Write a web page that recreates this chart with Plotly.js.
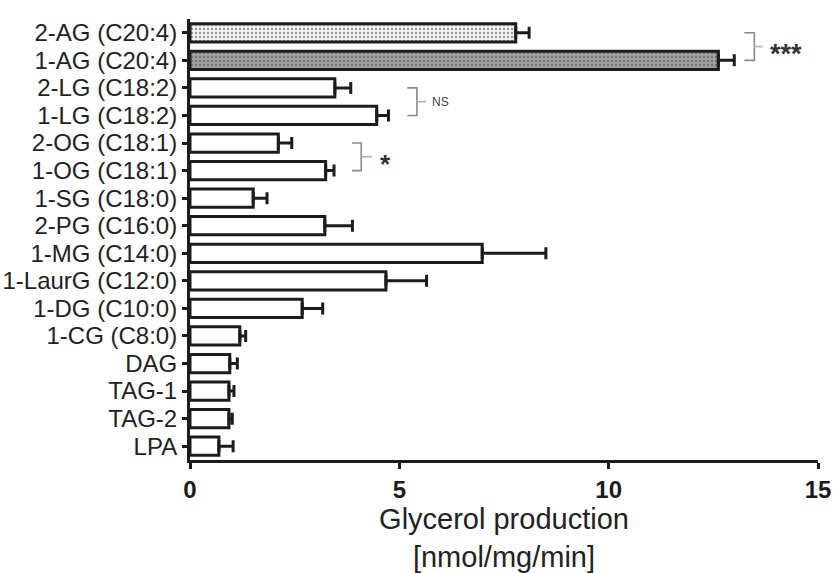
<!DOCTYPE html>
<html>
<head>
<meta charset="utf-8">
<script src="https://cdn.plot.ly/plotly-3.0.1.min.js"></script>
<style>html,body{margin:0;padding:0;background:#fff;}#chart{width:835px;height:573px;}</style>
</head>
<body>
<div id="chart"></div>
<script>
// ---- data ----
const categories = ["2-AG (C20:4)", "1-AG (C20:4)", "2-LG (C18:2)", "1-LG (C18:2)", "2-OG (C18:1)", "1-OG (C18:1)", "1-SG (C18:0)", "2-PG (C16:0)", "1-MG (C14:0)", "1-LaurG (C12:0)", "1-DG (C10:0)", "1-CG (C8:0)", "DAG", "TAG-1", "TAG-2", "LPA"];
const values = [7.78, 12.62, 3.46, 4.46, 2.11, 3.24, 1.51, 3.22, 6.98, 4.68, 2.68, 1.19, 0.95, 0.93, 0.93, 0.69];
const errors = [0.32, 0.38, 0.38, 0.28, 0.32, 0.20, 0.33, 0.66, 1.52, 0.97, 0.49, 0.14, 0.18, 0.12, 0.08, 0.34];
const xTicks = [0, 5, 10, 15];
const xTitle = "Glycerol production<br>[nmol/mg/min]";

// ---- styles ----
const fillColors = categories.map((c, i) => i === 0 ? "#f4f4f4" : (i === 1 ? "#a3a3a3" : "#ffffff"));
const patShapes = categories.map((c, i) => i < 2 ? "." : "");
const patFg = categories.map((c, i) => i === 0 ? "#cfcfcf" : (i === 1 ? "#636363" : "#ffffff"));
const noLower = errors.map(() => 0);
const ink = "#1c1c1c";
const font = "Liberation Sans, Arial, sans-serif";

const trace = {
  type: "bar",
  orientation: "h",
  y: categories,
  x: values,
  width: 0.66,
  marker: {
    color: fillColors,
    line: {color: ink, width: 3},
    pattern: {shape: patShapes, fgcolor: patFg, fillmode: "overlay", size: 4, solidity: 0.3}
  },
  error_x: {type: "data", symmetric: false, array: errors, arrayminus: noLower,
            color: ink, thickness: 3, width: 6},
  hoverinfo: "none"
};

const bracket = (x0, x1, x2, ya, yb) => ([
  {type: "path", xref: "x", yref: "y",
   path: `M ${x0} ${ya} L ${x1} ${ya} L ${x1} ${yb} L ${x0} ${yb}`,
   line: {color: "#8a8a8a", width: 1.6}},
  {type: "line", xref: "x", yref: "y", x0: x1, x1: x2, y0: (ya + yb) / 2, y1: (ya + yb) / 2,
   line: {color: "#b0b0b0", width: 1.6}}
]);

const layout = {
  width: 835, height: 573,
  margin: {l: 190, r: 17, t: 19, b: 113},
  paper_bgcolor: "#fff", plot_bgcolor: "#fff",
  showlegend: false,
  font: {family: font, color: ink},
  xaxis: {
    range: [0, 15], tickmode: "array", tickvals: xTicks, ticktext: xTicks.map(String),
    showgrid: false, zeroline: false,
    showline: true, linecolor: ink, linewidth: 3,
    ticks: "outside", ticklen: 6, tickwidth: 3, tickcolor: ink,
    tickfont: {family: font, size: 24, color: ink, weight: "bold"},
    title: {text: xTitle, font: {family: font, size: 29, color: "#222"}, standoff: 12}
  },
  yaxis: {
    type: "category", range: [15.5, -0.5],
    tickmode: "array", tickvals: categories, ticktext: categories,
    showgrid: false, zeroline: false,
    showline: true, linecolor: ink, linewidth: 3,
    ticks: "outside", ticklen: 5, tickwidth: 3, tickcolor: ink,
    tickfont: {family: font, size: 24, color: "#222"}
  },
  shapes: [
    ...bracket(13.24, 13.48, 13.67, 0, 1),
    ...bracket(5.19, 5.42, 5.64, 2, 3),
    ...bracket(3.87, 4.09, 4.35, 4, 5)
  ],
  annotations: [
    {x: 13.8, y: 0.5, xref: "x", yref: "y", text: "***", showarrow: false, xanchor: "left", yanchor: "middle",
     font: {family: font, size: 27, color: "#333", weight: "bold"}, yshift: -7},
    {x: 5.74, y: 2.5, xref: "x", yref: "y", text: "NS", showarrow: false, xanchor: "left", yanchor: "middle",
     font: {family: font, size: 12, color: "#444"}},
    {x: 4.5, y: 4.5, xref: "x", yref: "y", text: "*", showarrow: false, xanchor: "left", yanchor: "middle",
     font: {family: font, size: 26, color: "#333", weight: "bold"}, yshift: -7}
  ]
};

Plotly.newPlot("chart", [trace], layout, {staticPlot: true, displayModeBar: false});
</script>
</body>
</html>
